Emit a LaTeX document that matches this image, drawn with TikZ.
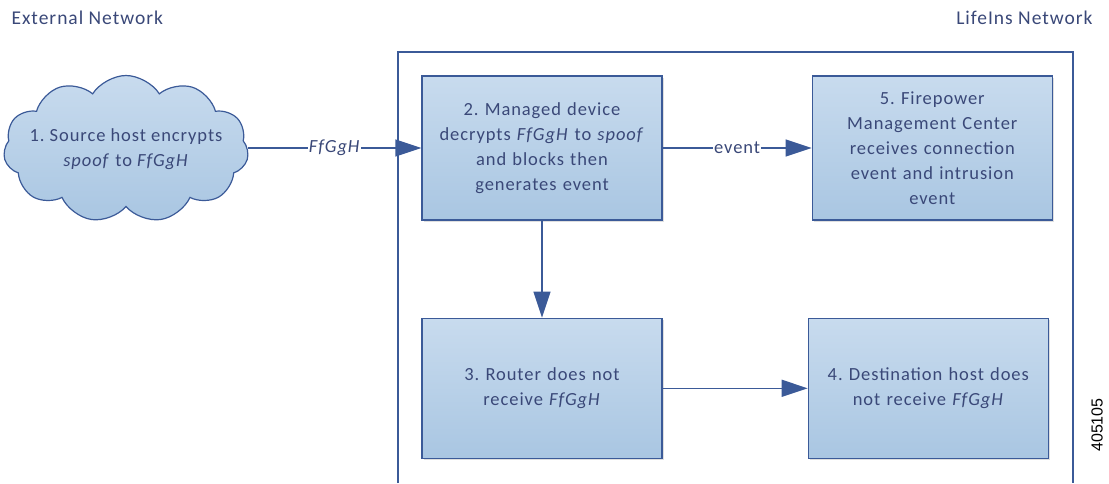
\documentclass[tikz,border=0pt]{standalone}
\usepackage{fontspec}
\setmainfont{Carlito}[LetterSpace=5]
\newfontfamily\idfont{Liberation Sans}
\usepackage{xcolor}
\usetikzlibrary{shapes.symbols, arrows.meta, positioning, shadows}
\definecolor{netblue}{HTML}{3B5A98}
\definecolor{txtblue}{HTML}{3A4878}
\definecolor{boxtop}{HTML}{C8DBEE}
\definecolor{boxbot}{HTML}{A9C6E2}
\tikzset{
	block/.style={rectangle, draw=netblue, line width=1.3pt, top color=boxtop, bottom color=boxbot, text=txtblue, text width=232pt, align=center, minimum width=240pt, minimum height=144pt, font=\fontsize{18.5}{25}\selectfont, drop shadow={shadow xshift=1.5pt, shadow yshift=-1.5pt, opacity=0.25}},
	line/.style={draw=netblue, line width=1.4pt, -{Triangle[length=26pt, width=17pt]}},
	lbl/.style={fill=white, text=txtblue, inner sep=1pt, font=\fontsize{18.5}{20}\selectfont},
	title/.style={text=txtblue, font=\fontsize{19.5}{20}\selectfont}
}

\begin{document}
\frenchspacing
\begin{tikzpicture}[x=1pt, y=-1pt]
	\useasboundingbox (0,0) rectangle (1109,483);
	% Network titles
	\node[title, anchor=west] (extnet) at (8,18) {External Network};
	\node[title, anchor=east] (lifenet) at (1096,18) {LifeIns Network};
	
	% LifeIns network frame (open at the bottom)
	\draw[netblue, line width=1.4pt] (398,483) -- (398,52) -- (1073,52) -- (1073,483);
	
	% Source host cloud
	\node[cloud, cloud puffs=11, cloud puff arc=115, cloud ignores aspect, draw=netblue, line width=1.2pt, top color=boxtop, bottom color=boxbot, minimum width=245pt, minimum height=147pt, inner sep=0pt] (source) at (126,149) {};
	\node[text=txtblue, align=center, font=\fontsize{18.5}{25}\selectfont] (srctext) at (source.center) {1. Source host encrypts\\ \textit{spoof} to \textit{FfGgH}};
	
	% Blocks inside the network
	\node[block] (device) at (542,148) {2. Managed device\\ decrypts \textit{FfGgH} to \textit{spoof}\\ and blocks then\\ generates event};
	\node[block, right=149pt of device] (fmc) {5. Firepower\\ Management Center\\ receives connection\\ event and intrusion\\ event};
	\node[block, below=97pt of device, minimum height=140pt] (router) {3. Router does not\\ receive \textit{FfGgH}};
	\node[block, right=145pt of router, minimum height=140pt] (dest) {4. Destination host does\\ not receive \textit{FfGgH}};
	
	% Connectors
	\path[line] (source.east |- device.west) -- node[lbl] {\textit{FfGgH}} (device.west);
	\path[line] (device) -- node[lbl] {event} (fmc);
	\path[line] (device) -- (router);
	\path[line] (router) -- (dest);
	
	% Figure number
	\node[rotate=90, font=\idfont\fontsize{16}{16}\selectfont] (figno) at (1097,425) {405105};
\end{tikzpicture}
\end{document}
